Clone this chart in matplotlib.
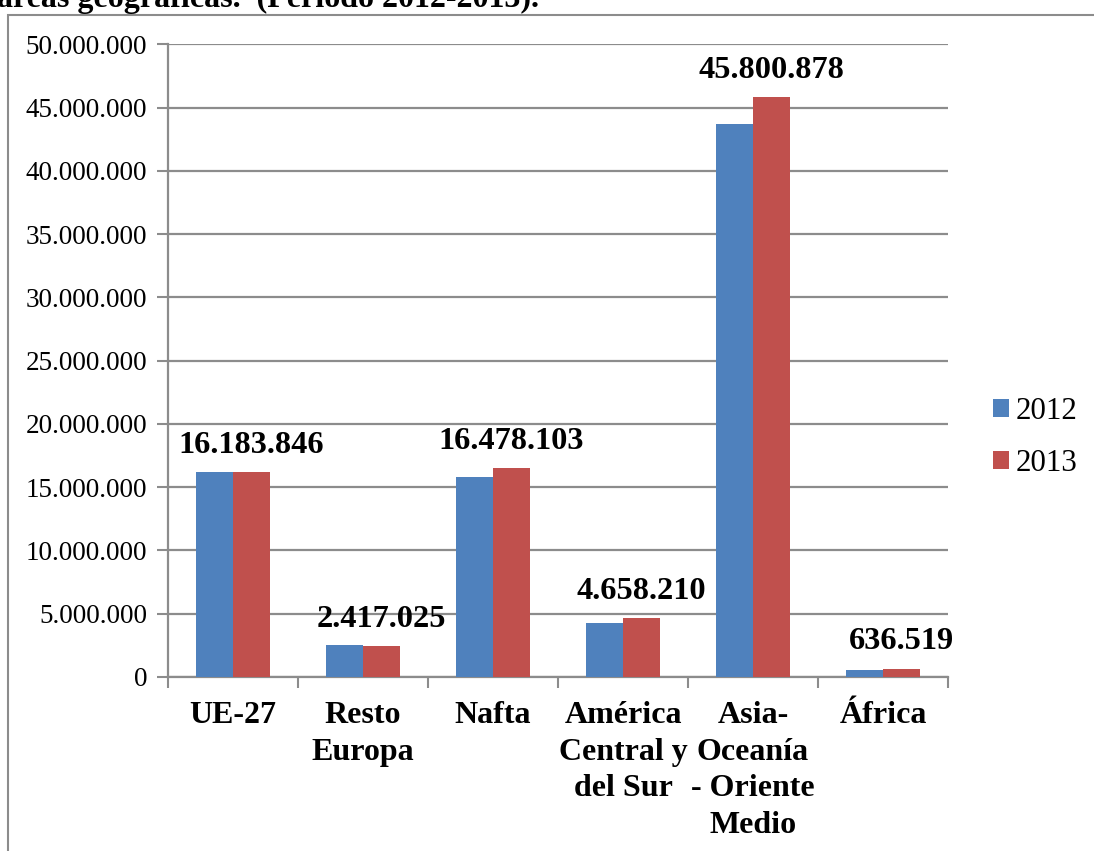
import numpy as np
import matplotlib.pyplot as plt
from matplotlib.patches import Rectangle
from matplotlib.ticker import FuncFormatter, MultipleLocator

plt.rcParams['font.family'] = ['Liberation Serif', 'DejaVu Serif']

regions = ["UE-27", "Resto\nEuropa", "Nafta", "América\nCentral y\ndel Sur",
           "Asia-\nOceanía\n- Oriente\nMedio", "África"]
vals_2012 = [16220000, 2500000, 15770000, 4290000, 43730000, 560000]
vals_2013 = [16183846, 2417025, 16478103, 4658210, 45800878, 636519]
years = ["2012", "2013"]
colors = ["#4f81bd", "#c0504d"]


def dots(v, pos=None):
    return f"{int(v):,}".replace(",", ".")


fig = plt.figure(figsize=(10.94, 8.51), dpi=100)
ax = fig.add_axes([0.1536, 0.2045, 0.713, 0.7435])

x = np.arange(len(regions))
w = 0.285
ax.bar(x - w / 2, vals_2012, w, color=colors[0], label=years[0], zorder=3)
ax.bar(x + w / 2, vals_2013, w, color=colors[1], label=years[1], zorder=3)

for xi, v in zip(x, vals_2013):
    ax.annotate(dots(v), (xi + w / 2, v), xytext=(0, 9), textcoords="offset points",
                ha="center", va="bottom", fontsize=23.3, fontweight="bold")

ax.set_xlim(-0.5, len(regions) - 0.5)
ax.set_ylim(0, 50000000)
ax.yaxis.set_major_locator(MultipleLocator(5000000))
ax.yaxis.set_major_formatter(FuncFormatter(dots))
ax.grid(axis="y", color="#8c8c8c", lw=1.6, zorder=0)

ax.set_xticks(x)
ax.set_xticklabels(regions, fontsize=23, fontweight="bold", linespacing=1.36, va="top")
ax.set_xticks(np.arange(len(regions) + 1) - 0.5, minor=True)
ax.tick_params(axis="x", which="major", length=0, pad=17)
ax.tick_params(axis="x", which="minor", length=8, width=1.5, color="#8c8c8c")
ax.tick_params(axis="y", length=8, width=1.5, color="#8c8c8c", labelsize=19.5, pad=7)

for s in ["top", "right"]:
    ax.spines[s].set_visible(False)
for s in ["left", "bottom"]:
    ax.spines[s].set_color("#8c8c8c")
    ax.spines[s].set_linewidth(1.6)

ax.legend(loc="center left", bbox_to_anchor=(993 / 1094, 1 - 437.5 / 851),
          bbox_transform=fig.transFigure, frameon=False, borderaxespad=0, borderpad=0,
          fontsize=22.3, handlelength=0.52, handleheight=0.52, handletextpad=0.2,
          labelspacing=0.72)

# outer chart frame (partly cropped)
fig.patches.append(Rectangle((8 / 1094, -0.1), 1.2, 1 - 15 / 851 + 0.1,
                             transform=fig.transFigure, fill=False,
                             edgecolor="#8c8c8c", lw=1.5))

fig.text(-0.003, 1 - 7 / 851, "áreas geográficas.  (Período 2012-2013).",
         fontsize=23, fontweight="bold", va="baseline", ha="left")

fig.savefig("out.png", dpi=100)
